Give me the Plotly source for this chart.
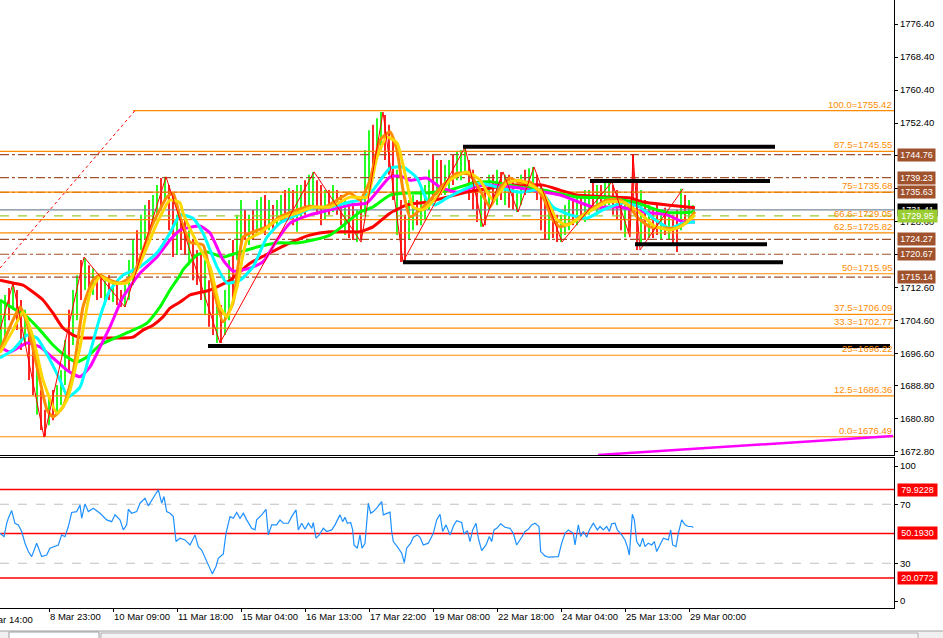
import plotly.graph_objects as go

# ---------------- data ----------------
# price bars, one value per 2-hour group, index 0..173
high = [1709.6, 1710.8, 1712.5, 1713.7, 1712.0, 1709.6, 1707.2, 1702.3, 1698.7, 1695.1,
        1687.8, 1683.0, 1686.6, 1687.8, 1689.0, 1692.6, 1699.9, 1707.2, 1712.0, 1715.6,
        1719.3, 1719.8, 1718.0, 1717.3, 1715.6, 1715.6, 1714.4, 1715.6, 1714.4, 1713.2,
        1712.0, 1713.2, 1719.3, 1724.1, 1726.5, 1730.2, 1732.6, 1733.8, 1735.0, 1737.4,
        1739.1, 1739.4, 1737.4, 1735.0, 1730.2, 1729.0, 1729.0, 1726.5, 1724.1, 1721.7,
        1720.5, 1719.3, 1714.4, 1712.0, 1709.6, 1708.4, 1712.0, 1719.3, 1724.1, 1730.2,
        1733.8, 1731.4, 1730.2, 1731.4, 1733.8, 1734.5, 1735.0, 1733.8, 1732.6, 1733.8,
        1735.0, 1736.2, 1736.7, 1736.2, 1737.4, 1737.4, 1738.6, 1739.9, 1740.6, 1738.6,
        1737.4, 1736.2, 1736.2, 1737.4, 1736.2, 1735.0, 1733.8, 1732.6, 1733.8, 1731.4,
        1733.8, 1745.9, 1750.7, 1752.0, 1753.6, 1755.1, 1754.4, 1752.0, 1748.3, 1741.1,
        1733.8, 1730.2, 1733.8, 1735.0, 1733.8, 1736.2, 1737.4, 1741.1, 1744.7, 1743.5,
        1743.5, 1742.3, 1743.5, 1744.7, 1745.4, 1745.9, 1746.6, 1743.5, 1741.1, 1737.4,
        1735.0, 1736.2, 1739.9, 1739.9, 1741.1, 1740.6, 1739.9, 1739.9, 1738.6, 1736.2,
        1739.9, 1741.1, 1741.5, 1741.8, 1739.9, 1737.4, 1735.0, 1732.6, 1731.4, 1730.2,
        1730.2, 1732.6, 1733.8, 1733.8, 1735.0, 1735.0, 1736.2, 1736.2, 1737.9, 1737.4,
        1737.4, 1737.9, 1738.2, 1737.4, 1736.2, 1733.8, 1732.6, 1733.8, 1744.9, 1738.6,
        1736.2, 1733.8, 1732.6, 1731.4, 1732.6, 1731.4, 1731.9, 1730.9, 1730.2, 1731.4,
        1736.5, 1735.0, 1733.8, 1732.6]
low = [1697.5, 1699.9, 1704.7, 1707.2, 1702.3, 1697.5, 1698.7, 1690.2, 1686.6, 1681.8,
       1678.1, 1676.4, 1679.3, 1680.5, 1681.8, 1684.2, 1689.0, 1692.6, 1698.7, 1704.7,
       1709.6, 1712.0, 1709.6, 1710.8, 1709.6, 1710.1, 1708.4, 1709.6, 1709.1, 1708.4,
       1707.9, 1707.9, 1709.6, 1713.2, 1718.0, 1721.7, 1724.1, 1726.5, 1727.7, 1730.2,
       1731.4, 1733.8, 1726.5, 1720.0, 1720.5, 1721.7, 1720.5, 1718.0, 1714.4, 1713.2,
       1709.6, 1705.9, 1703.1, 1701.1, 1699.2, 1699.2, 1701.1, 1704.7, 1709.6, 1719.3,
       1722.9, 1724.1, 1722.9, 1724.1, 1725.3, 1726.5, 1725.3, 1726.5, 1726.5, 1727.7,
       1728.5, 1729.0, 1730.2, 1727.7, 1726.1, 1729.0, 1730.2, 1731.4, 1732.6, 1730.2,
       1727.7, 1729.0, 1730.2, 1730.9, 1730.2, 1727.7, 1725.3, 1724.6, 1724.1, 1723.6,
       1724.1, 1730.2, 1736.2, 1739.9, 1743.5, 1745.9, 1743.5, 1739.9, 1733.8, 1725.3,
       1718.8, 1718.8, 1724.1, 1726.5, 1727.7, 1727.7, 1729.0, 1731.4, 1733.8, 1735.0,
       1735.0, 1735.0, 1736.2, 1737.4, 1738.6, 1738.6, 1739.9, 1733.8, 1731.4, 1728.5,
       1727.3, 1727.7, 1731.4, 1733.8, 1732.6, 1733.8, 1732.6, 1731.9, 1731.4, 1730.9,
       1732.6, 1735.0, 1736.2, 1737.4, 1733.8, 1726.5, 1724.1, 1724.1, 1724.6, 1723.6,
       1723.6, 1725.3, 1726.5, 1727.7, 1727.7, 1729.0, 1728.5, 1730.2, 1731.4, 1730.2,
       1730.9, 1731.4, 1732.6, 1730.2, 1729.0, 1726.5, 1724.8, 1726.1, 1731.4, 1721.7,
       1722.9, 1724.1, 1724.6, 1724.6, 1725.3, 1724.1, 1725.3, 1724.1, 1722.9, 1721.2,
       1726.5, 1728.5, 1729.0, 1729.4]
bar_dir = "".join(["GGRG", "RRGRRGRR", "GRGG", "GRGGRG", "RGRRGRGRRG", "GGRGGRGGRG",
                   "RRGRRGRRRGRRGR", "GGRGG", "RGRGGRGRGGRGRGGRGG", "RRGRGRRGRRGR",
                   "GGRGG", "RRRGRR", "GGRGGGRGRGGRGGG", "RRRGR", "GRGRGRRGGRGG",
                   "RRRGRRG", "GGRGRGGRGRGG", "RRRGR", "R", "RGRGRRGRGRR", "GRGG"])

# moving averages (bar index, price)
ma_red_k = [-0.25, 3, 5.5, 8, 10.5, 13, 15.5, 18, 20.5, 24.75, 30.5, 33, 35.5, 38, 40.5, 42.25, 44.75,
            47.25, 52.25, 57.25, 62.25, 67.25, 72.25, 77.25, 82.25, 87.25, 89.75, 93, 97.25, 101.5,
            106.5, 111.5, 116.5, 121.5, 127.25, 135.5, 139.75, 144, 152.25, 157.25, 160.5, 166.5, 173.5]
ma_red_v = [1714.4, 1713.7, 1713.2, 1711.5, 1709.6, 1706.4, 1702.8, 1701.1, 1700.4, 1700.4, 1700.4,
            1700.6, 1702.3, 1703.5, 1705.5, 1707.6, 1709.1, 1710.8, 1712.0, 1714.4, 1718.5, 1721.0,
            1723.4, 1725.3, 1726.1, 1726.1, 1726.1, 1727.3, 1730.6, 1732.6, 1733.3, 1734.5, 1735.7,
            1736.5, 1737.4, 1737.4, 1736.2, 1735.0, 1734.5, 1734.3, 1733.3, 1732.6, 1731.9]
ma_green_k = [-0.25, 3, 6.5, 9.75, 13, 16.5, 19, 21.5, 24.75, 29, 33, 36.5, 39.75, 42.25, 44.75, 45.5,
              49, 51.5, 55.5, 59, 64, 69, 74, 78, 82.25, 84.75, 87.25, 89.75, 93, 97.25, 101.5, 106.5,
              112.25, 118, 122.25, 129.75, 135.5, 144, 152.25, 159, 164, 167.25, 173.5]
ma_green_v = [1709.6, 1707.6, 1705.5, 1702.3, 1698.7, 1695.8, 1694.6, 1695.8, 1698.7, 1700.6, 1702.3,
              1704.0, 1707.9, 1712.0, 1715.6, 1716.9, 1720.5, 1721.2, 1720.0, 1721.0, 1722.4, 1723.4,
              1723.4, 1724.1, 1725.3, 1727.0, 1729.0, 1730.9, 1732.1, 1735.0, 1735.5, 1735.5, 1736.2,
              1737.9, 1738.2, 1736.9, 1736.2, 1734.5, 1734.3, 1733.1, 1731.4, 1730.7, 1730.9]
ma_magenta_k = [-0.25, 2.25, 6.5, 9.75, 13, 16.5, 19.75, 22.25, 24.75, 27.25, 30.5, 34.75, 39, 42.25,
                44.75, 49.75, 52.25, 55.5, 58, 62.25, 65.5, 69, 72.25, 77.25, 82.25, 87.25, 91.5, 97.25,
                99.75, 102.25, 106.5, 109.75, 114, 118, 122.25, 129.75, 132.25, 139.75, 148, 154.75,
                160.5, 166.5, 170.5, 173.5]
ma_magenta_v = [1698.2, 1697.0, 1699.2, 1698.2, 1695.55, 1692.6, 1691.0, 1693.4, 1698.2, 1703.1, 1710.3,
                1716.1, 1720.0, 1724.1, 1726.5, 1727.5, 1725.8, 1719.3, 1716.6, 1717.3, 1718.8, 1724.1,
                1728.2, 1730.2, 1731.4, 1732.6, 1733.1, 1739.4, 1739.6, 1738.6, 1739.1, 1736.9, 1735.7,
                1736.9, 1737.4, 1736.7, 1736.2, 1735.0, 1732.1, 1732.1, 1730.9, 1730.2, 1728.5, 1728.5]
ma_cyan_k = [-0.25, 3, 6.5, 9, 12.25, 14.75, 16.75, 19.75, 22.25, 24.75, 27.25, 30.5, 34.75, 39, 42.25,
             44.75, 48, 50.5, 54, 56.5, 59.75, 63, 66.5, 69.75, 74, 78, 82.25, 87.25, 89.75, 93, 97.25,
             100.5, 104, 106.5, 108.5, 111.5, 116.5, 119.75, 124.75, 129.75, 134.75, 138, 142.25,
             146.5, 150.5, 155.5, 159.75, 163, 167.25, 170.5, 173.5]
ma_cyan_v = [1695.55, 1697.5, 1701.1, 1700.4, 1695.1, 1690.2, 1686.1, 1688.5, 1696.8, 1705.5, 1712.0,
             1715.6, 1717.6, 1721.0, 1725.8, 1730.2, 1729.4, 1725.8, 1717.6, 1713.7, 1714.4, 1717.6,
             1724.8, 1728.2, 1730.2, 1731.9, 1732.1, 1733.3, 1733.8, 1736.2, 1741.5, 1741.8, 1739.1,
             1733.8, 1732.6, 1734.3, 1736.7, 1737.9, 1736.7, 1735.7, 1736.2, 1732.1, 1730.2, 1729.4,
             1731.4, 1733.1, 1732.1, 1729.4, 1727.0, 1728.2, 1728.5]
ma_orange_k = [-0.25, 3, 4.75, 6.5, 9, 11.5, 13, 15.5, 18, 20.5, 23, 24.75, 27.25, 29.75, 33, 35.5, 38,
               41.5, 43, 44.75, 47.25, 50.5, 53, 55.5, 58, 60.5, 63, 66.5, 69.75, 74, 77.25, 80.5, 84,
               87.25, 89.75, 92.25, 94.75, 97.25, 99, 100.5, 102.25, 104.75, 107.25, 110.5, 114,
               117.25, 119.75, 122.25, 124.75, 127.25, 129.75, 132.25, 135.5, 138, 139.75, 143,
               147.25, 151.5, 154.75, 157.25, 159, 162.25, 166.5, 169, 171.5, 173.5]
ma_orange_v = [1697.5, 1704.75, 1707.9, 1704.0, 1693.4, 1683.0, 1681.3, 1683.7, 1691.9, 1707.9, 1714.4,
               1715.6, 1714.4, 1713.7, 1715.6, 1721.7, 1728.2, 1734.5, 1735.5, 1729.7, 1723.6, 1722.9,
               1712.7, 1704.3, 1708.9, 1724.8, 1726.1, 1727.3, 1729.7, 1731.4, 1732.3, 1731.9, 1733.8,
               1735.5, 1733.8, 1738.6, 1748.3, 1750.3, 1745.9, 1736.2, 1729.7, 1731.4, 1733.8, 1737.4,
               1740.3, 1739.9, 1736.2, 1732.1, 1736.7, 1739.1, 1737.9, 1738.2, 1734.5, 1729.0, 1727.3,
               1728.5, 1731.4, 1733.8, 1733.8, 1732.1, 1729.7, 1727.3, 1727.0, 1727.0, 1728.5, 1730.9]
ma_gold_k = [-0.25, 3, 5.5, 8, 10.5, 14, 16.5, 19.75, 22.25, 24.75, 28, 31.5, 34, 36.5, 39, 42.25, 44.75,
             45.5, 49, 52.25, 54.75, 56.5, 59, 61.5, 64.75, 69, 74, 78, 82.25, 87.25, 91.5, 94, 96.5,
             99, 101.5, 103, 105.5, 109, 112.25, 116.5, 119.75, 123, 126.5, 129.75, 131.5, 135.5,
             139, 141.5, 146.5, 151.5, 155.5, 159.75, 163, 167.25, 170.5, 173.5]
ma_gold_v = [1696.8, 1702.3, 1706.7, 1700.6, 1690.2, 1682.2, 1685.4, 1698.2, 1711.3, 1715.2, 1713.7,
             1713.7, 1716.9, 1722.4, 1728.2, 1733.8, 1733.1, 1730.65, 1723.4, 1717.6, 1707.9, 1705.5,
             1712.7, 1724.1, 1725.8, 1729.0, 1730.65, 1732.1, 1732.1, 1734.5, 1734.5, 1744.2, 1749.05,
             1747.6, 1737.9, 1732.1, 1731.4, 1734.5, 1738.6, 1740.6, 1738.6, 1733.8, 1737.9, 1738.6,
             1737.9, 1735.5, 1729.0, 1727.7, 1730.65, 1733.3, 1733.3, 1730.65, 1727.7, 1726.5,
             1727.7, 1730.2]

# zigzag swing points
zz_k = [-0.25, 3, 10.75, 20.75, 31, 41.25, 54.75, 78.25, 90, 95.5, 100.5, 116, 120.5, 125.5, 129.25,
        133.25, 140.25, 152.75, 157.25, 158, 159.75, 170.5]
zz_v = [1702.3, 1713.7, 1676.4, 1720.0, 1707.9, 1739.4, 1699.2, 1740.6, 1723.6, 1755.1, 1718.8, 1746.6,
        1727.3, 1740.6, 1730.9, 1741.8, 1723.6, 1738.2, 1724.8, 1744.9, 1721.7, 1736.5]

# fibonacci levels
fib_names = ["100.0", "87.5", "75", "66.6", "62.5", "50", "37.5", "33.3", "25", "12.5", "0.0"]
fib_prices = [1755.42, 1745.55, 1735.68, 1729.05, 1725.82, 1715.95, 1706.09, 1702.77, 1696.22, 1686.36, 1676.49]
fib_top_start = 33.0     # the 100 level starts at this bar

# brown dash-dot levels with labels
brown_levels = [1744.76, 1739.23, 1735.63, 1724.27, 1720.67, 1715.14]
ask_level = 1731.41
bid_level = 1729.95

# thick black support/resistance segments: (start bar, end bar, price)
seg_start = [115.5, 147.25, 158.5, 100.5, 51.75]
seg_end = [193.5, 192.25, 191.5, 195.5, 222.25]
seg_price = [1746.70, 1738.40, 1723.07, 1718.71, 1698.45]

# dotted red trend line and magenta trend line (bar, price)
dot_k = [-0.25, 33.5]
dot_v = [1717.33, 1755.42]
mag_k = [149.25, 223.0]
mag_v = [1672.07, 1676.67]

# RSI
rsi_k = [-0.25, 0.75, 1.42, 1.83, 2.67, 3.5, 4.33, 5.17, 6, 6.83,
         7.67, 8.92, 10.17, 11.42, 12.25, 13.5, 14.33, 15.17, 16, 16.83,
         17.67, 18.92, 19.75, 20.17, 21, 21.83, 23.08, 24.75, 26.42, 27.67,
         28.5, 29.75, 30.58, 31.42, 31.83, 32.67, 33.92, 34.75, 36, 36.83,
         37.67, 38.5, 39.33, 40.17, 40.75, 41.42, 42.25, 43.08, 43.75, 44.75,
         46, 47.25, 48.5, 49.33, 50.17, 51, 51.83, 52.83, 53.75, 54.33,
         55.58, 56.25, 57.25, 58.08, 58.92, 59.75, 60.58, 61.42, 62.67, 63.5,
         63.92, 65.17, 66.25, 66.83, 67.67, 68.92, 69.75, 70.58, 71.83, 72.67,
         73.75, 74.33, 75.17, 76, 76.83, 77.67, 78.08, 78.75, 79.58, 80.58,
         81.42, 82.67, 83.5,
         84.75, 85.42, 86, 86.58, 87.42, 87.92, 88.25, 89.08, 89.75, 90.25,
         91, 91.42, 91.83, 92.42, 93.08, 93.92, 95.17, 95.58, 96.42, 97.25,
         97.67, 98.08, 99.08, 100.17, 100.83, 101.42, 102.42, 103.08, 104.08, 104.75,
         105.58, 106.83, 108.08, 108.92, 109.75, 110.42, 111.25, 112.25, 113.25, 113.92,
         115.17, 115.75, 116.58, 117.25, 117.92, 118.75, 119.33, 120.17, 121.25, 122.08,
         122.67, 123.25, 123.92, 124.92, 126, 127.25, 128.08, 128.92, 130.17, 131,
         131.83, 132.67, 133.5, 134.5, 134.92, 136, 136.83, 138.08, 139.33, 140.17,
         141, 141.83, 143.08, 143.5, 144.33, 144.92, 145.58, 146.42, 147.08, 148.08,
         149.08, 149.75, 150.58, 151.42, 152.08, 152.67, 153.5, 154.08, 155.17, 156,
         156.58, 157.08, 157.42, 157.83, 158.33, 158.92, 159.75, 160.42, 161, 161.83,
         162.67, 163.33, 163.92, 164.75, 165.58, 166.83, 167.42, 167.92, 168.75, 169.33,
         170.17, 171, 171.83, 172.67, 173.08]
rsi_v = [50.3, 48, 57, 60.5, 65.7, 57, 56, 51.5, 43.6, 37.9,
         34.5, 43.6, 34.5, 35.6, 40.2, 41.3, 42.4, 49.2, 48, 54.9,
         64.4, 65, 69.5, 60.5, 70.2, 65, 67.3, 63.9, 59.4, 58.2,
         62.8, 59.4, 52.6, 56, 66.6, 63.9, 65, 70.7, 74.1, 68.9,
         72.9, 76.3, 79.7, 70.7, 75.2, 65, 63.9, 61.6, 44.7, 47,
         45.8, 42.4, 49.2, 41.3, 39, 33.4, 28.9, 22.8, 27.8, 33.4,
         36.3, 50.3, 61.6, 60.5, 64.4, 60.5, 63.9, 59.4, 53.7, 52.6,
         59.4, 62.8, 66.6, 49.2, 56, 56, 59.4, 57.1, 57.1, 61.6,
         66.2, 52.6, 57.1, 53, 57.1, 53.7, 57.6, 47, 49.2, 53.7,
         51.5, 52.6, 56,
         62.8, 58.2, 61.2, 57.1, 57.6, 52.6, 42.4, 40.2, 49.2, 40.2,
         43.6, 54.9, 70.7, 63.9, 65, 67.3, 71.8, 62.8, 63.9, 64.6,
         51.5, 44.7, 41.3, 36.8, 30.4, 40.2, 43.6, 47.6, 49.2, 47.6,
         42.4, 43.6, 50.3, 59.4, 63.2, 51.5, 56, 49.2, 56, 58.9,
         57.6, 49.8, 52.1, 44.7, 52.6, 57.1, 47, 38.6, 42.4, 48.1,
         44.7, 52.6, 53.7, 56.7, 54.4, 53.7, 50.3, 42.4, 47.6, 51.5,
         53, 56, 57.1, 54.9, 37.9, 35, 34.1, 34.1, 34.5, 43.6,
         50.3, 52.6, 50.3, 42.4, 56, 48.1, 51.5, 47.6, 52.6, 57.1,
         52.6, 54.9, 52.6, 54.9, 51.5, 56.7, 57.1, 52.6, 49.2, 45.8,
         41.3, 35.6, 49.2, 63.2, 59.4, 44.7, 41.3, 47, 41.3, 43.6,
         42.4, 44.7, 37.9, 42.4, 47, 45.8, 52.6, 42.4, 41.3, 50.3,
         59.4, 56, 54.9, 54.9, 54.2]
rsi_levels = [79.9228, 50.1930, 20.0772]
rsi_dashed = [70, 30]

# axis ticks
x_tick_k = [12, 28, 44, 60, 76, 92, 108, 124, 140, 156, 172]
x_tick_text = ["8 Mar 23:00", "10 Mar 09:00", "11 Mar 18:00", "15 Mar 04:00", "16 Mar 13:00",
               "17 Mar 22:00", "19 Mar 08:00", "22 Mar 18:00", "24 Mar 04:00", "25 Mar 13:00",
               "29 Mar 00:00"]
first_label = "5 Mar 14:00"
price_ticks = [1776.4, 1768.4, 1760.4, 1752.4, 1744.6, 1736.6, 1728.6, 1720.6,
               1712.6, 1704.6, 1696.6, 1688.8, 1680.8, 1672.8]

# ---------------- figure ----------------
FONT = "Liberation Sans"
X_RANGE = [-0.25, 223.25]
Y_RANGE = [1672.07, 1782.21]
RSI_RANGE = [-0.34, 101.35]
ORANGE = "#FF8C00"
BROWN = "#A0522D"

fig = go.Figure()
XMAX = X_RANGE[1]


def hline(x0, x1, y, color, width=1, dash="solid", xa="x", ya="y"):
    fig.add_trace(go.Scatter(x=[x0, x1], y=[y, y], mode="lines", xaxis=xa, yaxis=ya,
                             line=dict(color=color, width=width, dash=dash), hoverinfo="skip"))


# horizontal levels (behind bars)
for lv in brown_levels:
    hline(X_RANGE[0], XMAX, lv, BROWN, 1.2, "dashdot")
for nm, pr in zip(fib_names, fib_prices):
    start = fib_top_start if nm == "100.0" else X_RANGE[0]
    hline(start, XMAX, pr, ORANGE, 1.2)
hline(X_RANGE[0], XMAX, ask_level, "#778899", 1.2)
hline(X_RANGE[0], XMAX, bid_level, "#9ACD32", 1.2, "dash")

# bars
n = min(len(high), len(low))
dirs = (bar_dir + "G" * n)[:n]
op, cl = [], []
for i in range(n):
    rng = high[i] - low[i]
    if dirs[i] == "G":
        op.append(low[i] + 0.3 * rng)
        cl.append(high[i] - 0.25 * rng)
    else:
        op.append(high[i] - 0.3 * rng)
        cl.append(low[i] + 0.25 * rng)
fig.add_trace(go.Ohlc(x=list(range(n)), open=op, high=high[:n], low=low[:n], close=cl,
                      increasing=dict(line=dict(color="#00FF00", width=1.7)),
                      decreasing=dict(line=dict(color="#FF0000", width=1.7)),
                      tickwidth=0, hoverinfo="skip", xaxis="x", yaxis="y"))

# moving averages
for ks, vs, col in [(ma_red_k, ma_red_v, "#FF0000"), (ma_green_k, ma_green_v, "#00FF00"),
                    (ma_magenta_k, ma_magenta_v, "#FF00FF"), (ma_cyan_k, ma_cyan_v, "#00FFFF"),
                    (ma_orange_k, ma_orange_v, "#FF8C00"), (ma_gold_k, ma_gold_v, "#FFD700")]:
    m = min(len(ks), len(vs))
    fig.add_trace(go.Scatter(x=ks[:m], y=vs[:m], mode="lines", xaxis="x", yaxis="y",
                             line=dict(color=col, width=3, shape="spline", smoothing=0.5),
                             hoverinfo="skip"))

# zigzag and trend lines
fig.add_trace(go.Scatter(x=zz_k, y=zz_v, mode="lines", line=dict(color="#FF0000", width=1),
                         hoverinfo="skip"))
fig.add_trace(go.Scatter(x=dot_k, y=dot_v, mode="lines", line=dict(color="#FF0000", width=1, dash="dot"),
                         hoverinfo="skip"))
fig.add_trace(go.Scatter(x=mag_k, y=mag_v, mode="lines", line=dict(color="#FF00FF", width=2.5),
                         hoverinfo="skip"))
for s, e, p in zip(seg_start, seg_end, seg_price):
    hline(s, e, p, "black", 4)

# RSI panel
for lv in rsi_dashed:
    hline(X_RANGE[0], XMAX, lv, "#C0C0C0", 1, "dash", "x2", "y2")
for lv in rsi_levels:
    hline(X_RANGE[0], XMAX, lv, "#FF0000", 1.5, "solid", "x2", "y2")
m = min(len(rsi_k), len(rsi_v))
fig.add_trace(go.Scatter(x=rsi_k[:m], y=rsi_v[:m], mode="lines", xaxis="x2", yaxis="y2",
                         line=dict(color="#1E90FF", width=1.2), hoverinfo="skip"))

PW = 894.0  # plot area width in px
PH = 608.0  # plot area height in px
ann = []
# fib labels
for nm, pr in zip(fib_names, fib_prices):
    ann.append(dict(x=893 / PW, xref="paper", y=pr, yref="y", xanchor="right", yanchor="bottom",
                    text=f"{nm}={pr:.2f}", showarrow=False, borderpad=0,
                    font=dict(family=FONT, size=9.5, color=ORANGE)))


def box(y, yref, text, bg, w=36):
    ann.append(dict(x=897 / PW, xref="paper", y=y, yref=yref, xanchor="left", yanchor="middle",
                    text=text, showarrow=False, bgcolor=bg, width=w, height=11, borderpad=0.5,
                    align="center", font=dict(family=FONT, size=9, color="white")))


box(ask_level, "y", f"{ask_level:.2f}", "black", 38)
box(bid_level, "y", f"{bid_level:.2f}", "#9ACD32", 38)
for lv in brown_levels:
    box(lv, "y", f"{lv:.2f}", BROWN)
for lv in rsi_levels:
    box(lv, "y2", f"{lv:.4f}", "#FF0000", 38)

# first (cut) date label
ann.append(dict(x=-20 / PW, xref="paper", y=-0.006, yref="paper", xanchor="left", yanchor="top",
                text=first_label, showarrow=False, font=dict(family=FONT, size=9.5, color="black")))

# bottom tab strip
shapes = [
    dict(type="rect", xref="paper", yref="paper", x0=-0.01, x1=945 / PW, y0=-31 / PH, y1=-23 / PH,
         fillcolor="#F0F0F0", line=dict(color="#A0A0A0", width=1), layer="above"),
    dict(type="rect", xref="paper", yref="paper", x0=9 / PW, x1=99 / PW, y0=-31 / PH, y1=-24 / PH,
         fillcolor="white", line=dict(color="#A0A0A0", width=1), layer="above"),
    dict(type="rect", xref="paper", yref="paper", x0=101 / PW, x1=918 / PW, y0=-31 / PH, y1=-25 / PH,
         fillcolor="#F4F4F4", line=dict(color="#B0B0B0", width=1), layer="above"),
]

fig.update_layout(
    width=943, height=638, margin=dict(l=0, r=49, t=0, b=30),
    paper_bgcolor="white", plot_bgcolor="white", showlegend=False,
    font=dict(family=FONT, size=9.5, color="black"),
    xaxis=dict(domain=[0, 1], anchor="y", range=X_RANGE, showgrid=False, zeroline=False,
               showticklabels=False, ticks="", showline=True, linecolor="black", linewidth=1,
               rangeslider=dict(visible=False), fixedrange=True),
    yaxis=dict(domain=[153 / PH, 1], anchor="x", range=Y_RANGE, side="right", showgrid=False,
               zeroline=False, tickvals=price_ticks, ticktext=[f"{t:.2f}" for t in price_ticks],
               ticks="outside", ticklen=3, tickcolor="black", showline=True, linecolor="black",
               linewidth=1, tickfont=dict(family=FONT, size=9.5), fixedrange=True),
    xaxis2=dict(domain=[0, 1], anchor="y2", range=X_RANGE, showgrid=False, zeroline=False,
                tickvals=x_tick_k, ticktext=x_tick_text, ticks="outside", ticklen=3, tickangle=0,
                tickcolor="black", ticklabelposition="outside right", showline=True, mirror=True,
                linecolor="black", linewidth=1, tickfont=dict(family=FONT, size=9.5),
                rangeslider=dict(visible=False), fixedrange=True),
    yaxis2=dict(domain=[0, 150 / PH], anchor="x2", range=RSI_RANGE, side="right", showgrid=False,
                zeroline=False, tickvals=[95.9, 70, 30, 4.4], ticktext=["100", "70", "30", "0"],
                ticks="outside", ticklen=3, tickcolor="black", showline=True, linecolor="black",
                linewidth=1, tickfont=dict(family=FONT, size=9.5), fixedrange=True),
    annotations=ann, shapes=shapes,
)

fig.write_html("out.html", config={"displayModeBar": False, "staticPlot": True},
               post_script="document.body.style.margin='0';document.body.style.overflow='hidden';")
